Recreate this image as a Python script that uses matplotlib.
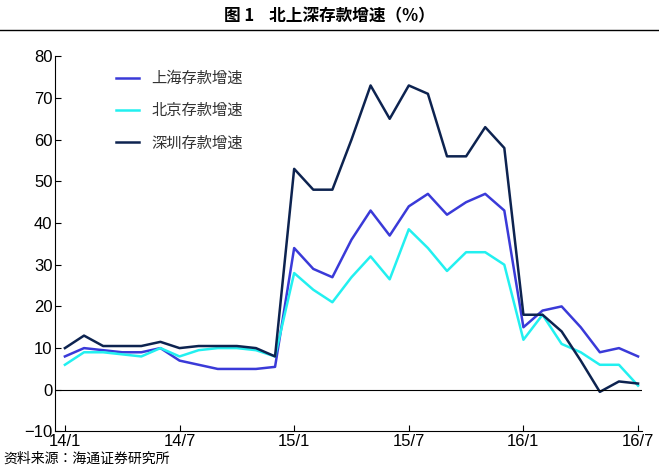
import matplotlib
matplotlib.use("Agg")
import matplotlib.pyplot as plt
from matplotlib.lines import Line2D

plt.rcParams['font.family'] = ['Noto Sans CJK JP', 'Noto Sans CJK SC', 'Noto Sans CJK TC', 'Noto Sans CJK KR']

months = list(range(31))  # 14/1 .. 16/7
tick_pos = [0, 6, 12, 18, 24, 30]
tick_labels = ["14/1", "14/7", "15/1", "15/7", "16/1", "16/7"]
shanghai = [8, 10, 9.5, 9, 9, 10, 7, 6, 5, 5, 5, 5.5, 34, 29, 27, 36, 43, 37, 44, 47, 42, 45, 47, 43, 15, 19, 20, 15, 9, 10, 8]
beijing = [6, 9, 9, 8.5, 8, 10, 8, 9.5, 10, 10, 9.5, 8, 28, 24, 21, 27, 32, 26.5, 38.5, 34, 28.5, 33, 33, 30, 12, 18, 11, 9, 6, 6, 1]
shenzhen = [10, 13, 10.5, 10.5, 10.5, 11.5, 10, 10.5, 10.5, 10.5, 10, 8, 53, 48, 48, 60, 73, 65, 73, 71, 56, 56, 63, 58, 18, 18, 14, 7, -0.5, 2, 1.5]
names = ["上海存款增速", "北京存款增速", "深圳存款增速"]
colors = ["#3a3ad8", "#22f0f0", "#0d2350"]

fig = plt.figure(figsize=(6.59, 4.69), dpi=100)
ax = fig.add_axes([0.084, 0.08, 0.89, 0.8])
for s, c, n in zip([shanghai, beijing, shenzhen], colors, names):
    ax.plot(months, s, color=c, lw=1.8, label=n)
ax.set_xlim(-0.5, 30.2)
ax.set_ylim(-10, 80)
ax.set_yticks(range(-10, 81, 10))
ax.set_xticks(tick_pos)
ax.set_xticklabels(tick_labels)
for lab in ax.get_xticklabels() + ax.get_yticklabels():
    lab.set_fontfamily('Liberation Sans')
ax.tick_params(labelsize=12, direction='in', length=4, pad=2)
ax.spines['top'].set_visible(False)
ax.spines['right'].set_visible(False)
ax.axhline(0, color='black', lw=0.8)
leg = ax.legend(loc='upper left', bbox_to_anchor=(0.08, 1.0), frameon=False,
                handlelength=1.5, labelspacing=1.0, fontsize=11)
for t in leg.get_texts():
    t.set_color('#333333')
fig.text(0.5, 0.965, "图 1    北上深存款增速（%）", ha='center', va='center',
         fontsize=12, fontweight='bold')
fig.add_artist(Line2D([0, 1], [0.935, 0.935], color='black', lw=1))
fig.text(0.005, 0.022, "资料来源：海通证券研究所", ha='left', va='center', fontsize=10)
fig.savefig("out.png")
